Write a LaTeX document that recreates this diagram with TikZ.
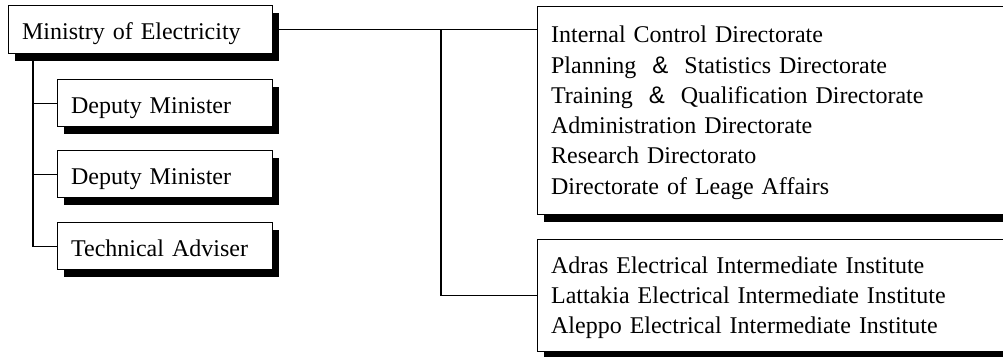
\documentclass[tikz,border=0pt]{standalone}
\usepackage{fontspec}
\setmainfont{Liberation Serif}
\setsansfont{Liberation Sans}
\usetikzlibrary{shadows,backgrounds}
\newcommand{\amp}{\hspace{16pt}{\sffamily\&}\hspace{16pt}}
\newcommand{\topstrut}{\rule{0pt}{21pt}}
\begin{document}
\begin{tikzpicture}[x=1pt,y=-1pt,
  every node/.style={font=\fontsize{24}{30.3}\selectfont},
  box/.style={draw,line width=1.2pt,fill=white,anchor=north west,
    drop shadow={shadow xshift=6.5pt,shadow yshift=-7.5pt,fill=black,opacity=1},
    inner xsep=13.5pt,inner ysep=0pt,align=left},
  onebox/.style={box,text height=20pt,text depth=0pt},
  conn/.style={line width=1.2pt}]
\useasboundingbox (0,0) rectangle (1003,356);
% left boxes
\node[onebox,minimum width=264pt,minimum height=48pt,text width=237pt] (min) at (8,5) {Ministry of Electricity};
\node[onebox,minimum width=215pt,minimum height=47pt,text width=188pt] (d1) at (57,79) {Deputy Minister};
\node[onebox,minimum width=215pt,minimum height=47pt,text width=188pt] (d2) at (57,150) {Deputy Minister};
\node[onebox,minimum width=215pt,minimum height=47pt,text width=188pt] (tech) at (57,222) {Technical Adviser};
% right boxes
\node[box,minimum width=473pt,minimum height=208pt,text width=446pt] (r1) at (537,6) {\topstrut Internal Control Directorate\\
Planning\amp Statistics Directorate\\
Training\amp Qualification Directorate\\
Administration Directorate\\
Research Directorato\\
Directorate of Leage Affairs};
\node[box,minimum width=473pt,minimum height=112pt,text width=446pt] (r2) at (537,239) {\topstrut Adras Electrical Intermediate Institute\\
Lattakia Electrical Intermediate Institute\\
Aleppo Electrical Intermediate Institute};
% connectors
\coordinate (rj) at (441,0);
\coordinate (lj) at (33,0);
\begin{scope}[on background layer]
\draw[conn] (min.east) -- (min.east -| r1.west);
\draw[conn] (rj |- min.east) -- (rj |- r2.west) -- (r2.west);
\draw[conn] (lj |- min.south) -- (lj |- tech.west) -- (tech.west);
\draw[conn] (lj |- d1.west) -- (d1.west);
\draw[conn] (lj |- d2.west) -- (d2.west);
\end{scope}
\end{tikzpicture}
\end{document}
